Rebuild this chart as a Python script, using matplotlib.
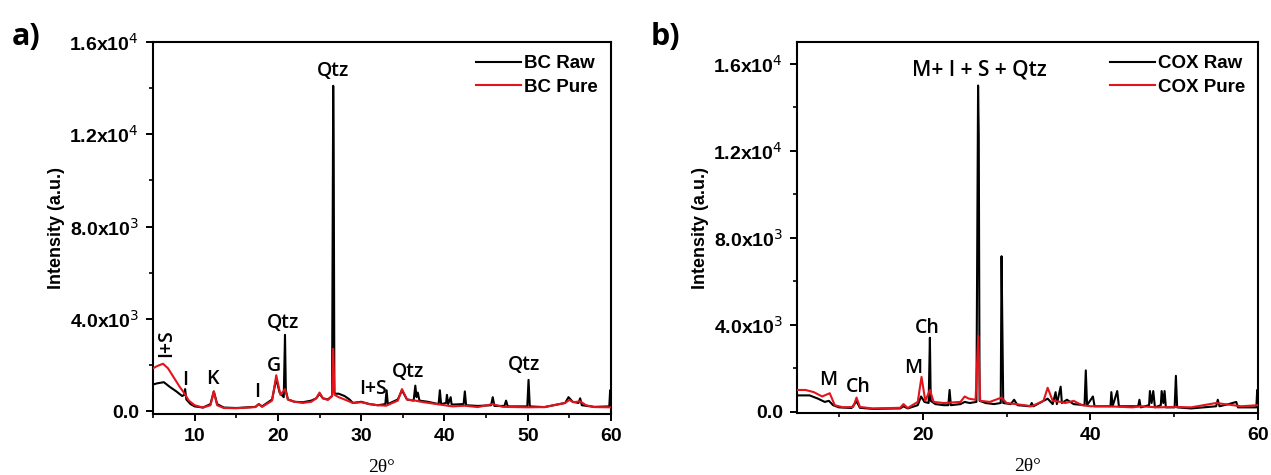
import numpy as np
import matplotlib
matplotlib.use('Agg')
import matplotlib.pyplot as plt
from matplotlib.ticker import MultipleLocator, FuncFormatter

plt.rcParams['font.family'] = ['Liberation Sans', 'DejaVu Sans']

# BC (panel a) - vertices
bc_raw_x = [5, 5.5, 6.3, 7, 7.8, 8.5, 8.75, 8.85, 9.0, 9.5, 10, 11, 11.9, 12.3, 12.7, 13.5, 15, 17.3,
            17.7, 18.1, 19.3, 19.8, 20.2, 20.7, 20.85, 20.95, 21.2, 22, 23, 24, 24.6, 25.0, 25.4, 26,
            26.5, 26.64, 26.7, 26.78, 26.9, 27.3, 28, 28.6, 29, 30, 31, 32, 32.9, 33.05, 33.2, 34.4,
            34.9, 35.5, 36.3, 36.5, 36.65, 36.8, 37.0, 38, 39.3, 39.45, 39.6, 40.2, 40.3, 40.45, 40.75,
            40.85, 41.0, 42.3, 42.45, 42.6, 44, 45.6, 45.8, 46.0, 47.2, 47.4, 47.6, 49.95, 50.1, 50.25,
            52, 54.5, 54.9, 55.4, 56.1, 56.3, 56.5, 58, 59.8, 59.9, 60]
bc_raw_y = [1150, 1200, 1250, 1050, 850, 650, 700, 950, 500, 300, 200, 150, 300, 850, 300, 150, 130, 180,
            300, 200, 500, 1400, 800, 600, 3300, 900, 500, 400, 380, 450, 550, 750, 550, 500,
            650, 14100, 11200, 800, 750, 750, 650, 500, 350, 400, 300, 250, 300, 900, 300, 500,
            900, 500, 450, 1100, 600, 800, 450, 400, 300, 900, 300, 350, 700, 300, 600,
            300, 280, 300, 850, 250, 220, 250, 600, 220, 220, 450, 200, 200, 1350, 200,
            170, 350, 600, 400, 350, 550, 250, 180, 200, 900, 200]

bc_pure_x = [5, 5.5, 6.2, 6.8, 7.5, 8.2, 8.8, 9.3, 10, 11, 11.9, 12.3, 12.7, 13.5, 15, 17.3, 17.7, 18.1,
             19.3, 19.8, 20.3, 20.85, 21.2, 22, 23, 24, 24.6, 25.0, 25.4, 26, 26.5, 26.64, 26.8, 27.3,
             28, 29, 30, 31, 32, 33, 34.4, 34.9, 35.5, 36.5, 37.5, 38.5, 40, 41, 42.4, 44, 45.8, 47,
             50, 52, 54.5, 55, 55.5, 56.3, 57, 58, 60]
bc_pure_y = [1850, 1950, 2050, 1850, 1450, 1050, 750, 450, 250, 150, 250, 850, 250, 130, 120, 170, 300, 180,
             450, 1550, 700, 950, 500, 400, 350, 400, 550, 800, 550, 480, 650, 2700, 700, 600,
             500, 350, 380, 300, 250, 230, 450, 950, 500, 450, 380, 330, 250, 200, 230, 170, 300, 180,
             160, 170, 350, 480, 380, 420, 250, 170, 160]

# COX (panel b)
cox_raw_x = [5, 6.5, 7.5, 8.3, 8.8, 9.3, 10, 11.5, 12.1, 12.5, 14, 17.3, 17.7, 18.2, 19.4, 19.8, 20.2,
             20.7, 20.85, 20.95, 21.5, 22.5, 23.05, 23.2, 23.35, 24.5, 25, 25.6, 26.4, 26.6, 26.68,
             26.78, 27.5, 28.5, 29.3, 29.4, 29.48, 29.6, 30.5, 30.9, 31.3, 32.8, 33.0, 33.2, 34.9,
             35.5, 35.85, 36.0, 36.45, 36.6, 37.2, 38, 39.3, 39.45, 39.6, 40.3, 40.5, 42.4, 42.5,
             42.65, 43.2, 43.4, 45.7, 45.85, 46.0, 47.0, 47.1, 47.3, 47.5, 47.7, 48.4, 48.5, 48.7,
             48.85, 49.0, 50.05, 50.2, 50.35, 52, 55, 55.2, 55.4, 56.5, 57.4, 57.6, 59.8, 59.9, 60]
cox_raw_y = [750, 750, 600, 450, 500, 300, 200, 170, 480, 180, 130, 150, 250, 150, 300, 700, 450,
             400, 3400, 500, 350, 300, 300, 1000, 300, 350, 450, 400, 450, 15000, 12700,
             500, 400, 350, 400, 7150, 4400, 400, 350, 550, 300, 250, 400, 250, 600,
             350, 900, 350, 1150, 400, 550, 350, 300, 1900, 300, 700, 250, 250, 900,
             250, 950, 250, 250, 550, 200, 300, 950, 400, 950, 200, 300, 950, 400,
             950, 200, 200, 1650, 200, 150, 250, 550, 250, 350, 450, 200, 200, 1000, 300]

cox_pure_x = [5, 6, 7, 8, 8.9, 9.5, 10.5, 11.7, 12.1, 12.5, 14, 17.3, 17.7, 18.2, 19.4, 19.85, 20.3,
              20.85, 21.3, 22.5, 24.5, 25, 25.5, 26.3, 26.62, 26.85, 28, 29.4, 30, 31.5, 33, 34.4,
              34.9, 35.5, 36.5, 37, 38, 39, 40, 42, 45, 46, 48, 50, 52, 55, 56, 57, 58, 60]
cox_pure_y = [1000, 1000, 900, 700, 850, 300, 200, 220, 650, 220, 150, 180, 350, 170, 450, 1600, 500,
              1000, 450, 400, 450, 700, 600, 550, 3500, 500, 450, 650, 400, 330, 250, 500,
              1100, 500, 450, 400, 500, 300, 250, 250, 200, 250, 200, 220, 200, 400, 350, 300, 250, 300]

bc_labels = [('Qtz', 26.6, 14750, 0), ('Qtz', 20.6, 3800, 0), ('G', 19.5, 1950, 0), ('I+S', 6.6, 2950, 90),
             ('I', 8.9, 1330, 0), ('K', 12.1, 1400, 0), ('I', 17.5, 820, 0), ('I+S', 31.4, 970, 0),
             ('Qtz', 35.6, 1690, 0), ('Qtz', 49.5, 1980, 0)]
cox_labels = [('M+ I + S + Qtz', 26.7, 15700, 0), ('Ch', 20.5, 3850, 0), ('M', 18.8, 2000, 0),
              ('M', 8.7, 1460, 0), ('Ch', 12.3, 1150, 0)]


def sci_fmt(v, pos):
    if v == 0:
        return '0.0'
    e = int(np.floor(np.log10(abs(v))))
    return r'%.1fx10$^{%d}$' % (v / 10 ** e, e)


fig = plt.figure(figsize=(12.71, 4.75), dpi=100)
ax1 = fig.add_axes([0.1204, 0.1284, 0.3603, 0.7832])
ax2 = fig.add_axes([0.6271, 0.1305, 0.3627, 0.781])

panels = [(ax1, bc_raw_x, bc_raw_y, bc_pure_x, bc_pure_y, 'BC', bc_labels, (-130, 16000), 10),
          (ax2, cox_raw_x, cox_raw_y, cox_pure_x, cox_pure_y, 'COX', cox_labels, (-60, 17000), 20)]

for ax, rx, ry, px, py, name, labels, ylim, xmaj in panels:
    ax.plot(rx, ry, color='black', lw=1.5, label=name + ' Raw', zorder=2)
    ax.plot(px, py, color='#e3141c', lw=1.5, label=name + ' Pure', zorder=3)
    ax.set_xlim(5, 60)
    ax.set_ylim(*ylim)
    ax.xaxis.set_major_locator(MultipleLocator(xmaj))
    ax.xaxis.set_minor_locator(MultipleLocator(xmaj / 2))
    ax.yaxis.set_major_locator(MultipleLocator(4000))
    ax.yaxis.set_minor_locator(MultipleLocator(2000))
    ax.yaxis.set_major_formatter(FuncFormatter(sci_fmt))
    ax.tick_params(which='major', direction='out', length=5, width=1.4, labelsize=14, pad=5)
    ax.tick_params(which='minor', direction='out', length=3, width=1.2)
    for lab in ax.get_xticklabels() + ax.get_yticklabels():
        lab.set_fontweight('bold')
    for s in ax.spines.values():
        s.set_linewidth(1.5)
    ax.set_ylabel('Intensity (a.u.)', fontsize=13, fontweight='bold', labelpad=3)
    ax.set_xlabel('2θ°', fontsize=14, family='Liberation Serif', labelpad=10)
    for txt, x, y, rot in labels:
        size = 15 if len(txt) > 5 else 14
        ax.text(x, y, txt, ha='center', va='center', rotation=rot, fontsize=size,
                family='Open Sans', fontweight='semibold', zorder=4)
    ax.legend(loc='upper right', frameon=False, handlelength=2.4,
              handletextpad=0.15, labelspacing=0.35, borderaxespad=0.3,
              prop={'weight': 'bold', 'size': 13.5})

fig.text(0.009, 0.905, 'a)', fontsize=22, fontweight='bold', family='Open Sans')
fig.text(0.512, 0.905, 'b)', fontsize=22, fontweight='bold', family='Open Sans')

fig.savefig('out.png', dpi=100)
